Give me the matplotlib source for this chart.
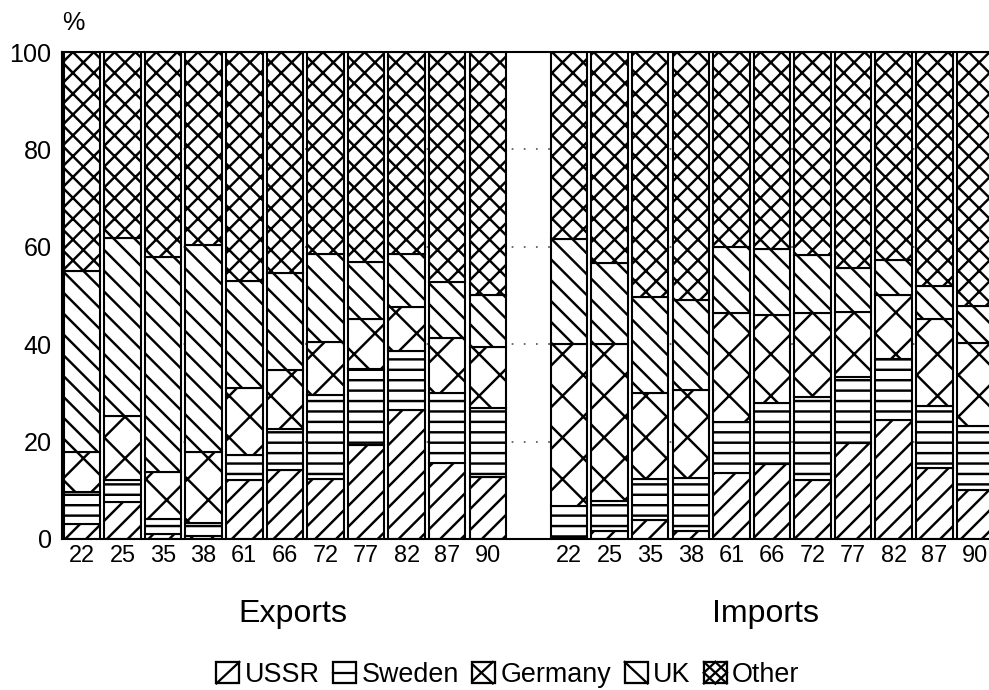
import numpy as np
import matplotlib
matplotlib.use('Agg')
import matplotlib.pyplot as plt
from matplotlib.patches import Patch, Rectangle
from matplotlib.lines import Line2D
from matplotlib.legend_handler import HandlerBase


years = ['22', '25', '35', '38', '61', '66', '72', '77', '82', '87', '90']
countries = ['USSR', 'Sweden', 'Germany', 'UK', 'Other']

# shares of trade, % of total, one list per partner
exp_ussr = [3.1, 7.7, 1.0, 0.7, 12.1, 14.2, 12.3, 19.4, 26.5, 15.7, 12.8]
exp_sweden = [6.5, 4.4, 3.2, 2.5, 5.1, 8.3, 17.3, 15.6, 12.1, 14.3, 14.0]
exp_germany = [8.3, 13.2, 9.5, 14.6, 13.9, 12.1, 10.9, 10.2, 9.1, 11.2, 12.7]
exp_uk = [37.2, 36.6, 44.3, 42.6, 21.9, 20.1, 18.0, 11.7, 10.8, 11.6, 10.6]
exp_other = [44.9, 38.1, 42.0, 39.6, 47.0, 45.3, 41.5, 43.1, 41.5, 47.2, 49.9]

imp_ussr = [0.5, 1.7, 3.8, 1.7, 13.6, 15.4, 12.1, 19.8, 24.4, 14.5, 10.1]
imp_sweden = [6.3, 6.2, 8.5, 10.8, 10.5, 12.5, 17.1, 13.4, 12.5, 12.8, 13.1]
imp_germany = [33.2, 32.1, 17.6, 18.1, 22.4, 18.1, 17.3, 13.5, 13.2, 17.8, 17.0]
imp_uk = [21.7, 16.6, 19.8, 18.5, 13.4, 13.5, 11.8, 8.9, 7.2, 6.9, 7.6]
imp_other = [38.3, 43.4, 50.3, 50.9, 40.1, 40.5, 41.7, 44.4, 42.7, 48.0, 52.2]

hatches = ['//', '--', 'x', '\\\\', 'xx']

# line segments drawn inside each legend box (unit square)
icon_lines = [
    [((0, 0), (1, 1))],
    [((0, 0.5), (1, 0.5))],
    [((0, 0.1), (0.9, 1)), ((0, 0.9), (0.9, 0))],
    [((0, 1), (1, 0))],
    [((0, 0.5), (0.5, 1)), ((0, 0), (1, 1)), ((0.5, 0), (1, 0.5)),
     ((0, 0.5), (0.5, 0)), ((0, 1), (1, 0)), ((0.5, 1), (1, 0.5))],
]


class IconHandler(HandlerBase):
    def __init__(self, segs):
        super().__init__()
        self.segs = segs

    def create_artists(self, legend, orig_handle, xdescent, ydescent,
                       width, height, fontsize, trans):
        x0, y0 = -xdescent, -ydescent
        arts = [Rectangle((x0, y0), width, height, facecolor='white',
                          edgecolor='black', lw=1.3, transform=trans)]
        for (xa, ya), (xb, yb) in self.segs:
            arts.append(Line2D([x0 + xa * width, x0 + xb * width],
                               [y0 + ya * height, y0 + yb * height],
                               color='black', lw=1.3, transform=trans))
        return arts


plt.rcParams['font.family'] = ['Liberation Sans', 'DejaVu Sans']
plt.rcParams['hatch.linewidth'] = 1.4
plt.rcParams['hatch.color'] = 'black'

fig = plt.figure(figsize=(989 / 125, 690 / 125), dpi=125)
ax = fig.add_axes([62 / 989, 151 / 690, 945 / 989, 487 / 690])

exports = [exp_ussr, exp_sweden, exp_germany, exp_uk, exp_other]
imports = [imp_ussr, imp_sweden, imp_germany, imp_uk, imp_other]
x_exp = np.arange(len(years))
x_imp = np.arange(len(years)) + len(years) + 1

for xs, parts in [(x_exp, exports), (x_imp, imports)]:
    bottom = np.zeros(len(years))
    for vals, h in zip(parts, hatches):
        ax.bar(xs, vals, width=0.9, bottom=bottom, color='white',
               edgecolor='black', linewidth=1.2, hatch=h, zorder=2)
        bottom += np.array(vals)

ax.set_xlim(-0.49, 22.79)
ax.set_ylim(0, 100)
ax.set_yticks([0, 20, 40, 60, 80, 100])
ax.set_xticks(np.concatenate([x_exp, x_imp]))
ax.set_xticklabels(years + years)
ax.tick_params(axis='both', length=0, labelsize=13.5)
ax.tick_params(axis='y', labelsize=14.5, pad=6)
ax.tick_params(axis='x', pad=3)

ax.yaxis.grid(True, linestyle=(0, (1, 6)), color='0.35', linewidth=1.0, zorder=0)
ax.set_axisbelow(True)

for side in ['left', 'bottom', 'top']:
    ax.spines[side].set_linewidth(1.2)
ax.spines['right'].set_visible(False)

ax.text(-0.2, 103.5, '%', fontsize=14.5, ha='center', va='bottom', clip_on=False)

ax.text(x_exp.mean() + 0.2, -12.3, 'Exports', fontsize=18.5, ha='center', va='top',
        clip_on=False)
ax.text(x_imp.mean() - 0.15, -12.3, 'Imports', fontsize=18.5, ha='center', va='top',
        clip_on=False)

handles = [Patch(facecolor='white', edgecolor='black') for _ in countries]
fig.legend(handles, countries, loc='center', bbox_to_anchor=(508 / 989, 15 / 690),
           ncol=5, frameon=False, handlelength=0.85, handleheight=0.85,
           handletextpad=0.2, columnspacing=0.5, borderaxespad=0,
           prop={'size': 15.5},
           handler_map={h: IconHandler(s) for h, s in zip(handles, icon_lines)})

fig.savefig('out.png', dpi=125)
